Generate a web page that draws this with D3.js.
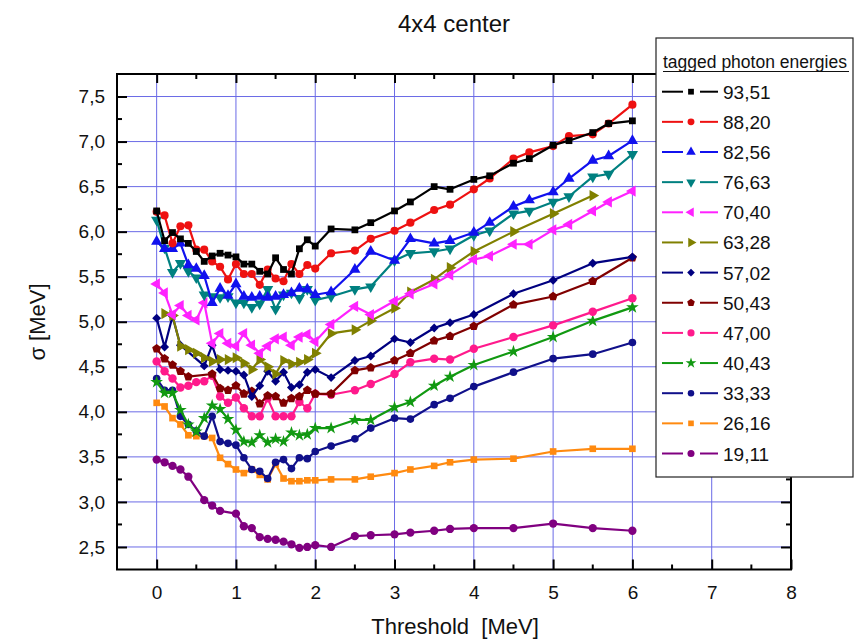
<!DOCTYPE html>
<html>
<head>
<meta charset="utf-8">
<script src="https://cdn.jsdelivr.net/npm/d3@7"></script>
<style>
  body { margin: 0; background: #fff; }
  svg { font-family: "Liberation Sans", Arial, sans-serif; }
</style>
</head>
<body>
<svg id="chart" width="856" height="642"></svg>
<script>
// Threshold values (MeV) at which the resolution was evaluated
const thresholds = [0, 0.1, 0.2, 0.3, 0.4, 0.5, 0.6, 0.7, 0.8, 0.9, 1.0, 1.1, 1.2, 1.3, 1.4, 1.5, 1.6, 1.7, 1.8, 1.9, 2.0,
  2.2, 2.5, 2.7, 3.0, 3.2, 3.5, 3.7, 4.0, 4.2, 4.5, 4.7, 5.0, 5.2, 5.5, 5.7, 6.0];

// sigma [MeV] per tagged photon energy (null = no measurement at that threshold)
const sigma9351 = [6.23, 5.90, 5.99, 5.92, 5.87, 5.78, 5.67, 5.73, 5.76, 5.74, 5.72, 5.64, 5.64, 5.56, 5.53, 5.71, 5.58, 5.53, 5.81, 5.91, 5.84,
  6.03, 6.02, 6.10, 6.23, 6.33, 6.50, 6.47, 6.58, 6.62, 6.76, 6.81, 6.96, 7.01, 7.10, 7.20, 7.23];
const sigma8820 = [6.22, 6.18, 5.87, 6.06, 6.07, 5.80, 5.80, 5.67, 5.61, 5.47, 5.64, 5.53, 5.53, 5.41, 5.58, 5.48, 5.45, 5.64, 5.53, 5.63, 5.59,
  5.76, 5.79, 5.92, 6.01, 6.10, 6.24, 6.30, 6.47, 6.59, 6.81, 6.88, 6.95, 7.06, 7.08, 7.20, 7.41];
const sigma8256 = [5.89, 5.81, 5.81, 5.87, 5.63, 5.59, 5.51, 5.21, 5.37, 5.29, 5.42, 5.28, 5.27, 5.28, 5.27, 5.28, 5.30, 5.32, 5.37, 5.36, 5.30,
  5.33, 5.58, 5.78, 5.68, 5.92, 5.87, 5.90, 5.99, 6.10, 6.28, 6.35, 6.44, 6.59, 6.79, 6.84, 7.01];
const sigma7663 = [6.13, 5.82, 5.55, 5.65, 5.56, 5.49, 5.30, 5.28, 5.27, 5.28, 5.21, 5.21, 5.16, 5.20, 5.36, 5.14, 5.30, 5.32, 5.26, 5.36, 5.24,
  5.28, 5.36, 5.39, 5.68, 5.76, 5.78, 5.81, 5.96, 6.01, 6.20, 6.23, 6.33, 6.39, 6.61, 6.64, 6.86];
const sigma7040 = [5.42, 5.32, 5.08, 5.18, 5.07, 5.02, 5.21, 4.76, 4.87, 4.76, 4.73, 4.87, 4.74, 4.65, 4.73, 4.81, 4.83, 4.74, 4.83, 4.86, 4.78,
  4.97, 5.17, 5.08, 5.23, 5.31, 5.42, 5.52, 5.69, 5.73, 5.86, 5.86, 6.02, 6.08, 6.23, 6.33, 6.45];
const sigma6328 = [null, 5.09, 5.07, 4.73, 4.69, 4.65, 4.60, 4.56, 4.58, 4.58, 4.60, 4.54, 4.47, 4.58, 4.50, 4.42, 4.57, 4.53, 4.55, 4.58, 4.65,
  4.87, 4.91, 5.01, 5.15, 5.33, 5.47, 5.60, 5.78, null, 6.00, null, 6.20, null, 6.40, null, null];
const sigma5702 = [5.04, 4.72, 5.06, 4.74, null, null, 4.51, 4.74, 4.47, 4.46, 4.45, 4.41, 4.17, 4.29, 4.45, 4.34, 4.44, 4.27, 4.30, 4.44, 4.47,
  4.38, 4.57, 4.62, 4.81, 4.77, 4.93, 4.99, 5.08, null, 5.31, null, 5.46, null, 5.65, null, 5.72];
const sigma5043 = [4.70, 4.59, 4.52, 4.45, 4.39, null, null, 4.42, 4.26, 4.24, 4.29, 4.20, 4.23, 4.09, 4.18, 4.17, 4.10, 4.15, 4.17, 4.24, 4.20,
  4.20, 4.46, 4.49, 4.57, 4.65, 4.79, 4.84, 4.95, null, 5.19, null, 5.28, null, 5.45, null, 5.71];
const sigma4700 = [4.56, 4.45, 4.37, 4.27, 4.29, 4.33, 4.34, 4.40, 4.17, 4.10, 4.16, 4.04, 3.95, 3.95, 4.15, 3.95, 3.95, 3.95, 4.11, 4.04, 4.20,
  4.19, 4.24, 4.31, 4.42, 4.55, 4.59, 4.58, 4.70, null, 4.83, null, 4.96, null, 5.11, null, 5.26];
const sigma4043 = [4.33, 4.21, 4.21, 4.02, 3.86, 3.78, 3.93, 4.07, 4.03, 3.92, 3.80, 3.67, 3.66, 3.74, 3.66, 3.70, 3.67, 3.77, 3.74, 3.75, 3.82,
  3.82, 3.91, 3.91, 4.05, 4.11, 4.29, 4.39, 4.52, null, 4.67, null, 4.83, null, 5.01, null, 5.16];
const sigma3333 = [4.37, 4.24, 4.24, 3.95, 3.86, 3.79, 3.73, 3.95, 3.67, 3.65, 3.63, 3.49, 3.36, 3.34, 3.26, 3.44, 3.47, 3.37, 3.49, 3.48, 3.56,
  3.62, 3.70, 3.82, 3.93, 3.92, 4.08, 4.15, 4.28, null, 4.44, null, 4.59, null, 4.64, null, 4.77];
const sigma2616 = [4.10, 4.06, 3.93, 3.86, 3.74, 3.73, 3.73, 3.71, 3.49, 3.42, 3.36, 3.32, 3.36, 3.30, 3.25, 3.42, 3.26, 3.23, 3.23, 3.24, 3.24,
  3.25, 3.25, 3.28, 3.32, 3.36, 3.40, 3.44, 3.47, null, 3.48, null, 3.56, null, 3.59, null, 3.59];
const sigma1911 = [3.47, 3.44, 3.40, 3.36, 3.28, null, 3.02, 2.96, 2.90, null, 2.87, 2.73, 2.71, 2.61, 2.59, 2.58, 2.56, 2.53, 2.49, 2.50, 2.52,
  2.50, 2.62, 2.63, 2.64, 2.66, 2.68, 2.70, 2.71, null, 2.71, null, 2.76, null, 2.71, null, 2.68];

const energyLabels = ["93,51", "88,20", "82,56", "76,63", "70,40", "63,28", "57,02", "50,43", "47,00", "40,43", "33,33", "26,16", "19,11"];
const xTickLabels = ["0", "1", "2", "3", "4", "5", "6", "7", "8"];
const yTickLabels = ["2,5", "3,0", "3,5", "4,0", "4,5", "5,0", "5,5", "6,0", "6,5", "7,0", "7,5"];

// ---- styling ----
const colors = ["#000000", "#ee1111", "#1111ee", "#008080", "#ff22ff", "#808000", "#000080",
  "#800000", "#ff1a8c", "#119911", "#10108a", "#ff8a10", "#800080"];

function pentagon(r) {
  const pts = d3.range(5).map(i => {
    const a = -Math.PI / 2 + i * 2 * Math.PI / 5;
    return [r * Math.cos(a), r * Math.sin(a)];
  });
  return "M" + pts.map(p => p.join(",")).join("L") + "Z";
}
const sym = (type, size, rot) => ({ path: d3.symbol().type(type).size(size)(), rot: rot || 0 });
const markers = [
  sym(d3.symbolSquare, 46),
  sym(d3.symbolCircle, 52),
  sym(d3.symbolTriangle, 54),
  sym(d3.symbolTriangle, 54, 180),
  sym(d3.symbolTriangle, 54, -90),
  sym(d3.symbolTriangle, 54, 90),
  sym(d3.symbolSquare, 40, 45),
  { path: pentagon(4.7), rot: 0 },
  sym(d3.symbolCircle, 56),
  sym(d3.symbolStar, 50),
  sym(d3.symbolCircle, 46),
  sym(d3.symbolSquare, 44),
  sym(d3.symbolCircle, 54)
];

const allSigma = [sigma9351, sigma8820, sigma8256, sigma7663, sigma7040, sigma6328, sigma5702,
  sigma5043, sigma4700, sigma4043, sigma3333, sigma2616, sigma1911];

const series = energyLabels.map((label, i) => ({
  label,
  color: colors[i],
  marker: markers[i],
  points: thresholds.map((t, j) => ({ x: t, y: allSigma[i][j] })).filter(p => p.y !== null)
}));

// ---- layout ----
const svg = d3.select("#chart");
const x = d3.scaleLinear().domain([-0.5, 8]).range([117, 791]);
const y = d3.scaleLinear().domain([2.25, 7.75]).range([569.5, 74]);
const L = x.range()[0], R = x.range()[1], T = y.range()[1], B = y.range()[0];

// grid
const gridColor = "#6a6ae6";
const xMajor = xTickLabels.map(Number);
const yMajor = yTickLabels.map(s => +s.replace(",", "."));
svg.append("g").selectAll("line").data(xMajor).join("line")
  .attr("x1", d => x(d)).attr("x2", d => x(d)).attr("y1", T).attr("y2", B)
  .attr("stroke", gridColor).attr("stroke-width", 1);
svg.append("g").selectAll("line").data(yMajor).join("line")
  .attr("x1", L).attr("x2", R).attr("y1", d => y(d)).attr("y2", d => y(d))
  .attr("stroke", gridColor).attr("stroke-width", 1);

// axes with inward ticks on all four sides
const xMinor = d3.range(-0.5, 8.01, 0.5).filter(v => !xMajor.includes(v) && v > -0.5);
const yMinor = d3.range(2.25, 7.76, 0.25).filter(v => !yMajor.includes(+v.toFixed(2)) && v > 2.25 && v < 7.75);

const axBottom = d3.axisBottom(x).tickValues(xMajor).tickFormat((d, i) => xTickLabels[i]).tickSizeInner(-10).tickSizeOuter(0).tickPadding(16);
const axTop = d3.axisTop(x).tickValues(xMajor).tickFormat("").tickSizeInner(-9).tickSizeOuter(0);
const axLeft = d3.axisLeft(y).tickValues(yMajor).tickFormat((d, i) => yTickLabels[i]).tickSizeInner(-10).tickSizeOuter(0).tickPadding(12);
const axRight = d3.axisRight(y).tickValues(yMajor).tickFormat("").tickSizeInner(-10).tickSizeOuter(0);

function styleAxis(g) {
  g.select(".domain").remove();
  g.selectAll(".tick line").attr("stroke", "#000").attr("stroke-width", 2);
  g.selectAll(".tick text").attr("fill", "#111").style("font-size", "19px")
    .style("font-family", '"Liberation Sans", Arial, sans-serif');
}
svg.append("g").attr("transform", `translate(0,${B})`).call(axBottom).call(styleAxis);
svg.append("g").attr("transform", `translate(0,${T})`).call(axTop).call(styleAxis);
svg.append("g").attr("transform", `translate(${L},0)`).call(axLeft).call(styleAxis);
svg.append("g").attr("transform", `translate(${R},0)`).call(axRight).call(styleAxis);

// minor ticks
const minor = svg.append("g").attr("stroke", "#000").attr("stroke-width", 2);
xMinor.forEach(v => {
  minor.append("line").attr("x1", x(v)).attr("x2", x(v)).attr("y1", B).attr("y2", B - 5);
  minor.append("line").attr("x1", x(v)).attr("x2", x(v)).attr("y1", T).attr("y2", T + 5);
});
yMinor.forEach(v => {
  minor.append("line").attr("x1", L).attr("x2", L + 5).attr("y1", y(v)).attr("y2", y(v));
  minor.append("line").attr("x1", R).attr("x2", R - 5).attr("y1", y(v)).attr("y2", y(v));
});

// frame
svg.append("rect").attr("x", L).attr("y", T).attr("width", R - L).attr("height", B - T)
  .attr("fill", "none").attr("stroke", "#000").attr("stroke-width", 2);

// series lines and markers
const line = d3.line().x(d => x(d.x)).y(d => y(d.y));
const sg = svg.append("g");
series.slice().reverse().forEach(s => {
  const g = sg.append("g");
  g.append("path").attr("d", line(s.points)).attr("fill", "none")
    .attr("stroke", s.color).attr("stroke-width", 2.2).attr("stroke-linejoin", "round");
  g.selectAll("path.m").data(s.points).join("path").attr("class", "m")
    .attr("d", s.marker.path)
    .attr("transform", d => `translate(${x(d.x)},${y(d.y)}) rotate(${s.marker.rot})`)
    .attr("fill", s.color);
});

// title and axis titles
svg.append("text").attr("x", 454).attr("y", 32).attr("text-anchor", "middle")
  .style("font-size", "24px").attr("fill", "#111").text("4x4 center");
svg.append("text").attr("x", 455).attr("y", 634).attr("text-anchor", "middle")
  .style("font-size", "22px").style("white-space", "pre").attr("fill", "#111").text("Threshold  [MeV]");
svg.append("text").attr("transform", "translate(45,322) rotate(-90)").attr("text-anchor", "middle")
  .style("font-size", "22px").attr("fill", "#111").text("σ [MeV]");

// legend
const lg = svg.append("g");
lg.append("rect").attr("x", 656).attr("y", 38).attr("width", 197).attr("height", 439)
  .attr("fill", "#fff").attr("stroke", "#222").attr("stroke-width", 1.2);
lg.append("text").attr("x", 663).attr("y", 68).style("font-size", "17.5px").attr("fill", "#111")
  .text("tagged photon energies");
lg.append("line").attr("x1", 663).attr("x2", 849).attr("y1", 71.5).attr("y2", 71.5)
  .attr("stroke", "#111").attr("stroke-width", 1.2);
series.forEach((s, i) => {
  const cy = 91.7 + 30.15 * i;
  lg.append("line").attr("x1", 662).attr("x2", 683).attr("y1", cy).attr("y2", cy)
    .attr("stroke", s.color).attr("stroke-width", 2);
  lg.append("line").attr("x1", 700).attr("x2", 718).attr("y1", cy).attr("y2", cy)
    .attr("stroke", s.color).attr("stroke-width", 2);
  lg.append("path").attr("d", s.marker.path)
    .attr("transform", `translate(691,${cy}) rotate(${s.marker.rot}) scale(0.85)`)
    .attr("fill", s.color);
  lg.append("text").attr("x", 723).attr("y", cy + 7).style("font-size", "19px").attr("fill", "#111")
    .text(s.label);
});
</script>
</body>
</html>
